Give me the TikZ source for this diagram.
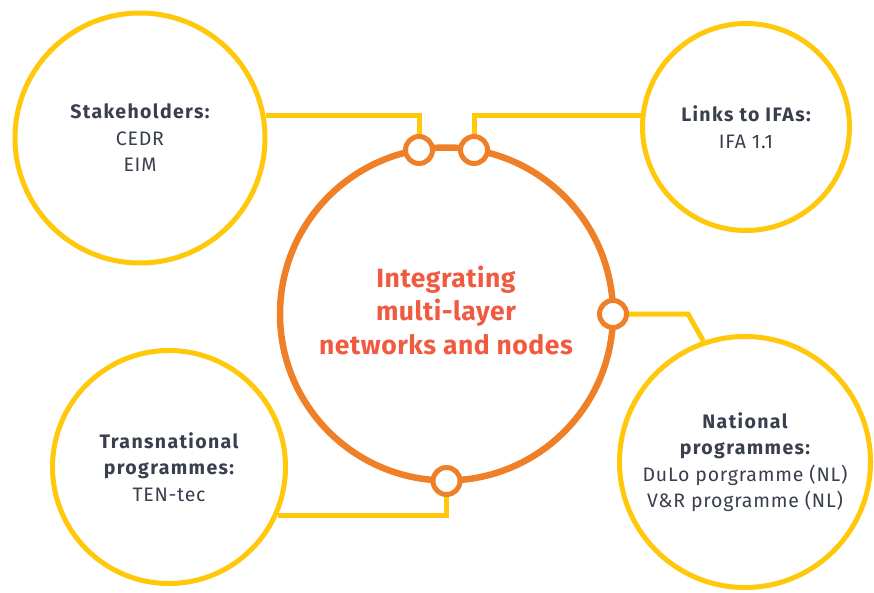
\documentclass[tikz,border=0pt]{standalone}
\usepackage{fontspec}
\setmainfont{Fira Sans}
\definecolor{ringyellow}{RGB}{255,200,10}
\definecolor{ringorange}{RGB}{240,128,40}
\definecolor{titlered}{RGB}{240,90,64}
\definecolor{inktext}{RGB}{58,63,78}
% bold, tracked heading inside a partner circle
\newcommand\hubhead[1]{{\bfseries\addfontfeature{LetterSpace=7}#1}}
\begin{document}
\begin{tikzpicture}[x=1pt,y=-1pt,
  hub/.style={circle, draw=ringyellow, line width=5pt, fill=white, text=inktext,
    align=center, font=\fontsize{19.5}{26.5}\selectfont\addfontfeature{LetterSpace=4}, inner sep=0pt},
  core/.style={circle, draw=ringorange, line width=6.5pt, minimum size=333pt, inner sep=0pt},
  title/.style={text=titlered, align=center,
    font=\fontsize{26.5}{33.5}\selectfont\bfseries\addfontfeature{LetterSpace=2}},
  joint/.style={circle, draw=ringorange, line width=5pt, fill=white,
    minimum size=27pt, inner sep=0pt},
  link/.style={draw=ringyellow, line width=5pt}
]
\useasboundingbox (0,0) rectangle (874,593);

% outer partner circles
\node[hub, minimum size=250pt] (stake) at (140,138)
  {\hubhead{Stakeholders:}\\CEDR\\EIM};
\node[hub, minimum size=207pt] (ifa) at (746,127)
  {\hubhead{Links to IFAs:}\\IFA 1.1};
\node[hub, minimum size=233pt] (trans) at (169,467)
  {\hubhead{Transnational}\\\hubhead{programmes:}\\TEN-tec};
\node[hub, minimum size=251pt] (nat) at (745,462)
  {\hubhead{National}\\\hubhead{programmes:}\\DuLo porgramme (NL)\\V\&R programme (NL)};

% central ring and its title
\node[core] (core) at (446.5,314) {};
\node[title] (coretitle) at (446,310) {Integrating\\multi-layer\\networks and nodes};

% junction points on the ring
\node[joint] (s1) at (419,150) {};
\node[joint] (s2) at (474,150) {};
\node[joint] (s3) at (613,314) {};
\node[joint] (s4) at (446.5,481) {};

% connectors
\coordinate (bend) at (688,314);
\draw[link] (stake.10) -| (s1.north);
\draw[link] (s2.north) |- (ifa.174);
\draw[link] (s3.east) -- (bend) -- (nat.109);
\draw[link] (trans.-24) -| (s4.south);
\end{tikzpicture}
\end{document}
